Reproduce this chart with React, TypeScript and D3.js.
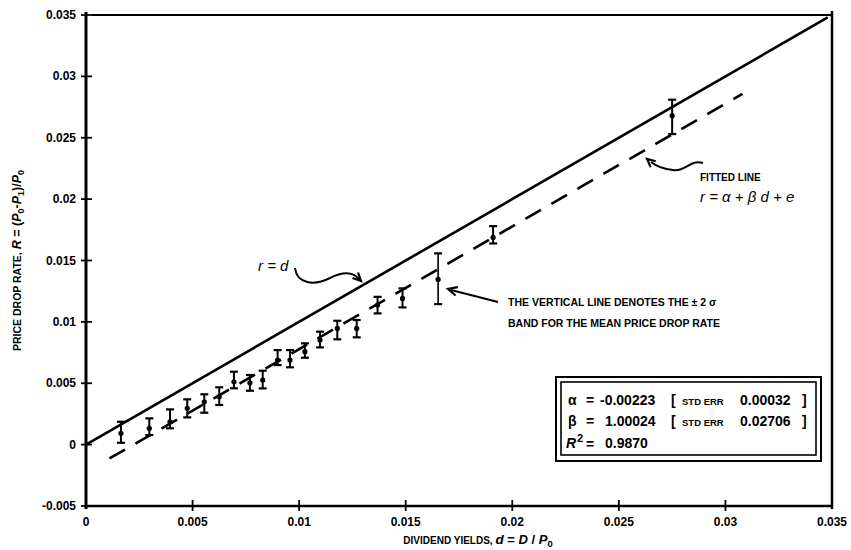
import React from "react";
import * as d3 from "d3";

const dividendYield = [0.00164, 0.00297, 0.00394, 0.00475, 0.00555, 0.00625, 0.00694, 0.00769, 0.00829, 0.00899, 0.00957, 0.01027, 0.01098, 0.01179, 0.0127, 0.01368, 0.01485, 0.01652, 0.0191, 0.0275];
const meanDropRate = [0.00092, 0.00133, 0.00186, 0.00296, 0.00349, 0.0039, 0.00512, 0.00504, 0.00526, 0.00689, 0.00689, 0.00757, 0.00852, 0.00947, 0.00947, 0.01137, 0.01191, 0.01346, 0.01688, 0.0268];
const upperBand = [0.00186, 0.00214, 0.00287, 0.00369, 0.0041, 0.00467, 0.00594, 0.00567, 0.00602, 0.0077, 0.0077, 0.00825, 0.0092, 0.01009, 0.01015, 0.01204, 0.01273, 0.01558, 0.0178, 0.0281];
const lowerBand = [0.00015, 0.00078, 0.00133, 0.00222, 0.0026, 0.00323, 0.00459, 0.00439, 0.00458, 0.00648, 0.0063, 0.00708, 0.00792, 0.00858, 0.00874, 0.01069, 0.01118, 0.01145, 0.01639, 0.0253];

const xTicks = [0, 0.005, 0.01, 0.015, 0.02, 0.025, 0.03, 0.035];
const xTickLabels = ["0", "0.005", "0.01", "0.015", "0.02", "0.025", "0.03", "0.035"];
const yTicks = [-0.005, 0, 0.005, 0.01, 0.015, 0.02, 0.025, 0.03, 0.035];
const yTickLabels = ["-0.005", "0", "0.005", "0.01", "0.015", "0.02", "0.025", "0.03", "0.035"];

const alpha = -0.00223;
const beta = 1.00024;
const fittedRange = [0.0011, 0.0308];
const identityRange = [0, 0.0348];

const FONT = "'Liberation Sans', Arial, Helvetica, sans-serif";

export default function App() {
  const W = 851, H = 550;
  const x = d3.scaleLinear().domain([0, 0.035]).range([86, 832]);
  const y = d3.scaleLinear().domain([-0.005, 0.035]).range([506, 15]);
  const line = d3.line<[number, number]>().x(d => x(d[0])).y(d => y(d[1]));

  const identity: [number, number][] = identityRange.map(v => [v, v]);
  const fitted: [number, number][] = fittedRange.map(v => [v, alpha + beta * v]);

  const arrowHead = (tipX: number, tipY: number, angleDeg: number, size = 9) => {
    const a = (angleDeg * Math.PI) / 180;
    const spread = 0.45;
    const p1 = [tipX - size * Math.cos(a - spread), tipY - size * Math.sin(a - spread)];
    const p2 = [tipX - size * Math.cos(a + spread), tipY - size * Math.sin(a + spread)];
    return `M${p1[0]},${p1[1]} L${tipX},${tipY} L${p2[0]},${p2[1]}`;
  };

  return (
    <svg width={W} height={H} style={{ position: "absolute", left: 0, top: 0, background: "#fff" }} fontFamily={FONT}>
      <rect x={0} y={0} width={W} height={H} fill="#fff" />
      {/* frame */}
      <line x1={x(0)} x2={x(0)} y1={12} y2={509} stroke="#000" strokeWidth={3} />
      <line x1={x(0.035)} x2={x(0.035)} y1={11} y2={509} stroke="#000" strokeWidth={2.5} />
      <line x1={x(0) + 6} x2={x(0.035)} y1={y(0.035)} y2={y(0.035)} stroke="#000" strokeWidth={2} />
      <line x1={x(0)} x2={x(0.035)} y1={y(-0.005)} y2={y(-0.005)} stroke="#000" strokeWidth={2.5} />

      {/* y ticks */}
      {yTicks.map((t, i) => (
        <g key={"yt" + i}>
          <line x1={x(0) - 5} x2={x(0) + 6} y1={y(t)} y2={y(t)} stroke="#000" strokeWidth={1.8} />
          <text x={x(0) - 10} y={y(t) + 4} textAnchor="end" fontSize={12} fontWeight="bold">{yTickLabels[i]}</text>
        </g>
      ))}
      {/* x ticks */}
      {xTicks.map((t, i) => (
        <g key={"xt" + i}>
          {i > 0 && i < xTicks.length - 1 && (
            <line x1={x(t)} x2={x(t)} y1={y(-0.005) - 6} y2={y(-0.005) + 5} stroke="#000" strokeWidth={1.8} />
          )}
          <text x={x(t)} y={526} textAnchor="middle" fontSize={12} fontWeight="bold">{xTickLabels[i]}</text>
        </g>
      ))}

      {/* axis titles */}
      <text transform={`translate(21, ${y(0.015)}) rotate(-90)`} textAnchor="middle" fontSize={10.5} fontWeight="bold">
        <tspan>PRICE DROP RATE, </tspan>
        <tspan fontStyle="italic" fontSize={12.5}>R</tspan>
        <tspan fontSize={12.5}> = (</tspan>
        <tspan fontStyle="italic" fontSize={12.5}>P</tspan>
        <tspan fontSize={9} dy={3}>0</tspan>
        <tspan fontSize={12.5} dy={-3}>-</tspan>
        <tspan fontStyle="italic" fontSize={12.5}>P</tspan>
        <tspan fontSize={9} dy={3}>1</tspan>
        <tspan fontSize={12.5} dy={-3}>)/</tspan>
        <tspan fontStyle="italic" fontSize={12.5}>P</tspan>
        <tspan fontSize={9} dy={3}>0</tspan>
      </text>
      <text x={478} y={544} textAnchor="middle" fontSize={10} fontWeight="bold">
        <tspan>DIVIDEND YIELDS,  </tspan>
        <tspan fontStyle="italic" fontSize={13.5}> d</tspan>
        <tspan fontSize={13}> = </tspan>
        <tspan fontStyle="italic" fontSize={13}>D</tspan>
        <tspan fontSize={13}> / </tspan>
        <tspan fontStyle="italic" fontSize={13}>P</tspan>
        <tspan fontSize={9.5} dy={3}>0</tspan>
      </text>

      {/* identity line r = d */}
      <path d={line(identity) || ""} fill="none" stroke="#000" strokeWidth={2.6} />
      {/* fitted line */}
      <path d={line(fitted) || ""} fill="none" stroke="#000" strokeWidth={2.6} strokeDasharray="18 12" />

      {/* error bars */}
      {dividendYield.map((dv, i) => {
        const cx = x(dv);
        const big = i === 17;
        return (
          <g key={"eb" + i}>
            <line x1={cx} x2={cx} y1={y(upperBand[i])} y2={y(lowerBand[i])} stroke="#000" strokeWidth={big ? 1.6 : 2} />
            <line x1={cx - 4} x2={cx + 4} y1={y(upperBand[i])} y2={y(upperBand[i])} stroke="#000" strokeWidth={2.2} />
            <line x1={cx - 4} x2={cx + 4} y1={y(lowerBand[i])} y2={y(lowerBand[i])} stroke="#000" strokeWidth={2.2} />
            <circle cx={cx} cy={y(meanDropRate[i])} r={2.6} fill="#000" />
          </g>
        );
      })}

      {/* r = d annotation */}
      <text x={258} y={271} fontSize={15} fontStyle="italic">r = d</text>
      <path d="M295,268 C297,284 314,286 330,278 C342,272 352,271 359,279" fill="none" stroke="#000" strokeWidth={2} />
      <path d={arrowHead(361, 281, 45)} fill="none" stroke="#000" strokeWidth={2.2} />

      {/* fitted line annotation */}
      <text x={700} y={181} fontSize={10} fontWeight="bold">FITTED LINE</text>
      <text x={700} y={202} fontSize={15} fontStyle="italic">
        r = α + β d + e
      </text>
      <path d="M703,163 C690,159 686,172 673,170 C663,169 656,166 651,162" fill="none" stroke="#000" strokeWidth={2} />
      <path d={arrowHead(647, 159, -140)} fill="none" stroke="#000" strokeWidth={2.2} />

      {/* ±2σ annotation */}
      <line x1={498} y1={302} x2={451} y2={290} stroke="#000" strokeWidth={2} />
      <path d={arrowHead(448, 289, -165, 10)} fill="none" stroke="#000" strokeWidth={2.2} />
      <text x={508} y={306} fontSize={10.5} fontWeight="bold">THE VERTICAL LINE DENOTES THE ± 2 σ</text>
      <text x={508} y={327} fontSize={10.5} fontWeight="bold">BAND FOR THE MEAN PRICE DROP RATE</text>

      {/* statistics box */}
      <rect x={556} y={377} width={265} height={84} fill="#fff" stroke="#000" strokeWidth={2} />
      <rect x={561} y={382} width={255} height={73} fill="none" stroke="#000" strokeWidth={1.6} />
      <g fontSize={14} fontWeight="bold">
        <text x={568} y={405}>α</text>
        <text x={586} y={405}>=</text>
        <text x={600} y={405}>-0.00223</text>
        <text x={671} y={405}>[</text>
        <text x={682} y={405} fontSize={9.5}>STD ERR</text>
        <text x={740} y={405}>0.00032</text>
        <text x={802} y={405}>]</text>

        <text x={568} y={426}>β</text>
        <text x={586} y={426}>=</text>
        <text x={605} y={426}>1.00024</text>
        <text x={671} y={426}>[</text>
        <text x={682} y={426} fontSize={9.5}>STD ERR</text>
        <text x={740} y={426}>0.02706</text>
        <text x={802} y={426}>]</text>

        <text x={566} y={448} fontStyle="italic">R</text>
        <text x={577} y={442} fontSize={11}>2</text>
        <text x={586} y={449}>=</text>
        <text x={605} y={448}>0.9870</text>
      </g>
    </svg>
  );
}
